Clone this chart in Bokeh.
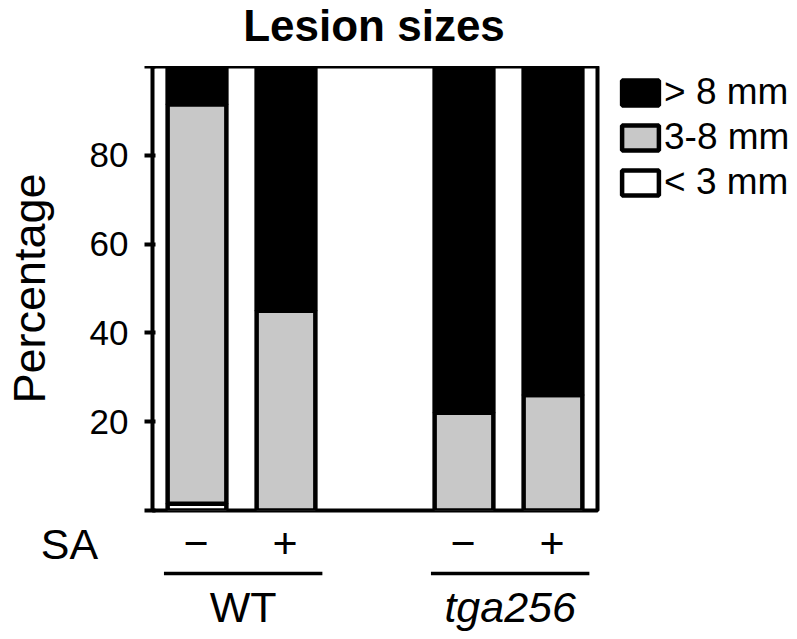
from bokeh.plotting import figure
from bokeh.models import Range1d, FixedTicker, Legend, LegendItem, ColumnDataSource
from bokeh.core.properties import value
from bokeh.embed import file_html
from bokeh.resources import INLINE

# ---- data ----
genotypes = ["WT", "WT", "tga256", "tga256"]
sa_treatment = ["\u2212", "+", "\u2212", "+"]
bar_slots = [1, 2, 4, 5]
size_small = [1.5, 0.0, 0.0, 0.0]      # < 3 mm
size_medium = [90.0, 45.0, 22.0, 26.0]  # 3-8 mm
size_large = [8.5, 55.0, 78.0, 74.0]    # > 8 mm
y_ticks = [0, 20, 40, 60, 80, 100]
legend_labels = ["> 8 mm", "3-8 mm", "< 3 mm"]
title_text = "Lesion sizes"

FONT = "Liberation Sans"
W, H = 797, 639
LEFT, TOP, FW, FH = 151, 66, 445, 444
BOT = 10
MAIN_H = FH + BOT
UNIT = FW / 5.0
x0 = 0.5 - LEFT / UNIT          # data x at page left edge


def strip(height, y_lo, y_hi):
    f = figure(output_backend="svg", toolbar_location=None,
               frame_width=W, frame_height=height,
               min_border_left=0, min_border_right=0, min_border_top=0, min_border_bottom=0,
               x_range=Range1d(x0, x0 + W / UNIT), y_range=Range1d(y_lo, y_hi))
    f.xaxis.visible = False
    f.yaxis.visible = False
    f.grid.visible = False
    f.outline_line_color = None
    return f


# ---- title strip ----
p0 = strip(TOP, 0, TOP)
p0.text(x=[(min(bar_slots) + max(bar_slots)) / 2], y=[TOP - 25], text=[title_text], text_align="center",
        text_baseline="middle", text_font=value(FONT), text_font_size="44px",
        text_font_style="bold", text_color="black")

# ---- main chart ----
src = ColumnDataSource(dict(x=bar_slots, small=size_small, medium=size_medium, large=size_large))

p = figure(output_backend="svg", toolbar_location=None,
           frame_width=FW, frame_height=FH,
           min_border_left=LEFT, min_border_right=W - LEFT - FW, min_border_top=0,
           min_border_bottom=BOT,
           x_range=Range1d(0.5, 5.5), y_range=Range1d(0, 100))

rs = p.vbar_stack(["small", "medium", "large"], x="x", width=0.66, source=src,
                  fill_color=["white", "#c8c8c8", "black"], line_color="black", line_width=4.5)

p.xgrid.visible = False
p.ygrid.visible = False
p.xaxis.visible = False
p.outline_line_color = "black"
p.outline_line_width = 4
p.outline_line_alpha = 1

ya = p.yaxis[0]
ya.ticker = FixedTicker(ticks=y_ticks)
ya.major_label_overrides = {0: "", 100: ""}
ya.axis_line_color = None
ya.major_tick_line_width = 4
ya.major_tick_out = 8
ya.major_tick_in = 3
ya.minor_tick_out = 0
ya.minor_tick_in = 0
ya.major_label_standoff = 16
ya.major_label_text_font = FONT
ya.major_label_text_font_size = "35px"
ya.major_label_text_color = "black"
ya.axis_label = "Percentage"
ya.axis_label_text_font = FONT
ya.axis_label_text_font_size = "45px"
ya.axis_label_text_font_style = "normal"
ya.axis_label_text_color = "black"
ya.axis_label_standoff = 32

legend = Legend(items=[LegendItem(label=legend_labels[0], renderers=[rs[2]]),
                       LegendItem(label=legend_labels[1], renderers=[rs[1]]),
                       LegendItem(label=legend_labels[2], renderers=[rs[0]])],
                location=(20, 307), margin=0, padding=0, spacing=3,
                glyph_width=46, glyph_height=31, label_standoff=1,
                label_text_font=FONT, label_text_font_size="37px", label_text_color="black",
                border_line_color=None, background_fill_alpha=0)
p.add_layout(legend, "right")

# ---- lower strip: treatment and genotype annotations, same horizontal scale ----
p2 = strip(H - TOP - MAIN_H, -(H - TOP - FH), -BOT)

tsize = "43px"
p2.text(x=[1 + (69 - (LEFT + UNIT / 2)) / UNIT], y=[-33], text=["SA"], text_align="center",
        text_baseline="middle", text_font=value(FONT), text_font_size=tsize, text_color="black")
p2.text(x=bar_slots, y=[-33] * len(bar_slots), text=sa_treatment, text_align="center",
        text_baseline="middle", text_font=value(FONT), text_font_size=tsize, text_color="black")

groups = []
for g, xs in zip(genotypes, bar_slots):
    if not groups or groups[-1][0] != g:
        groups.append([g, [xs]])
    else:
        groups[-1][1].append(xs)
for g, xs in groups:
    lo, hi = min(xs) - 0.36, max(xs) + 0.42
    p2.segment(x0=[lo], y0=[-63], x1=[hi], y1=[-63], line_width=3.5, line_color="black")
    p2.text(x=[(lo + hi) / 2], y=[-96], text=[g], text_align="center", text_baseline="middle",
            text_font=value(FONT), text_font_size=tsize, text_color="black",
            text_font_style="normal" if g == "WT" else "italic")

open("out.html", "w").write(file_html([p0, p, p2], INLINE))
